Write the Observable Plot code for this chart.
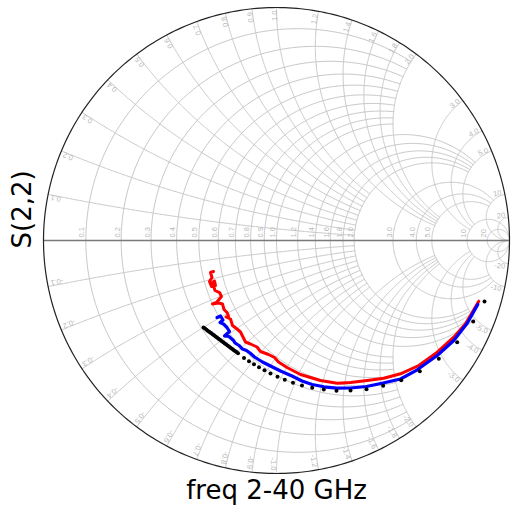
<!DOCTYPE html>
<html><head><meta charset="utf-8">
<script src="https://cdn.jsdelivr.net/npm/d3@7"></script>
<script src="https://cdn.jsdelivr.net/npm/@observablehq/plot@0.6"></script>
<style>body{margin:0;background:#fff}</style>
</head><body><div id="chart"></div>
<script>
// grid tick values (normalized resistance / reactance)
const gridValues = [0.1,0.2,0.3,0.4,0.5,0.6,0.7,0.8,0.9,1.0,1.2,1.4,1.6,1.8,2.0,3.0,4.0,5.0,10,20];
// truncation: [upper value of group, limit of the crossing family]
const rCircleLimits = [[1.0, 2.0],[2.0, 5.0],[5.0, 10],[20, Infinity]];
const xArcLimits = [[1.0, 2.0],[2.0, 5.0],[5.0, 10],[20, Infinity]];

// measured S(2,2), black markers (reflection coefficient re / im)
const blackRe = [-0.3133,-0.3069,-0.3004,-0.2940,-0.2876,-0.2811,-0.2747,-0.2682,-0.2618,-0.2554,-0.2489,-0.2425,
  -0.2361,-0.2296,-0.2232,-0.2167,-0.2103,-0.2039,-0.1974,-0.1910,-0.1845,-0.1781,-0.1717,-0.1652,
  -0.1395,-0.1180,-0.0966,-0.0751,-0.0515,-0.0258,0.0043,0.0356,0.0708,0.1094,0.1532,0.2030,0.2575,0.3176,0.3863,0.4579,0.5352,0.6150,0.6966,0.7755,0.8442,0.8927];
const blackIm = [-0.3734,-0.3781,-0.3828,-0.3880,-0.3927,-0.3974,-0.4021,-0.4069,-0.4120,-0.4167,-0.4215,-0.4262,
  -0.4309,-0.4361,-0.4408,-0.4455,-0.4502,-0.4549,-0.4601,-0.4648,-0.4695,-0.4742,-0.4790,-0.4841,
  -0.5043,-0.5180,-0.5313,-0.5438,-0.5567,-0.5708,-0.5850,-0.5974,-0.6103,-0.6223,-0.6322,-0.6395,-0.6451,-0.6438,-0.6382,-0.6236,-0.5996,-0.5609,-0.5077,-0.4365,-0.3476,-0.2618];
// blue trace
const blueRe = [-0.2554,-0.2403,-0.2296,-0.2425,-0.2275,-0.2124,-0.2017,-0.2232,-0.2039,-0.1845,-0.1781,-0.1609,-0.1459,-0.1288,-0.1137,-0.0944,
  -0.0601,-0.0258,0.0172,0.0687,0.1094,0.1532,0.2030,0.2575,0.3176,0.3863,0.4579,0.5322,0.6039,0.6897,0.7609,0.8185,0.8639];
const blueIm = [-0.3305,-0.3240,-0.3412,-0.3519,-0.3584,-0.3734,-0.3906,-0.4099,-0.4120,-0.4292,-0.4399,-0.4506,-0.4657,-0.4721,-0.4828,-0.5000,
  -0.5215,-0.5386,-0.5601,-0.5828,-0.6030,-0.6180,-0.6279,-0.6339,-0.6330,-0.6266,-0.6116,-0.5944,-0.5549,-0.4936,-0.4292,-0.3549,-0.2747];
// red trace
const redRe = [-0.2704,-0.2833,-0.2768,-0.2876,-0.2790,-0.2618,-0.2661,-0.2747,-0.2639,-0.2446,-0.2361,-0.2575,-0.2747,-0.2489,-0.2318,-0.2253,-0.2124,-0.2060,-0.2167,-0.1974,
  -0.1888,-0.1695,-0.1545,-0.1438,-0.1330,-0.1116,-0.0837,-0.0687,-0.0343,-0.0086,0.0086,0.0451,0.1030,0.1888,0.2605,0.3176,0.3893,0.4605,0.5322,0.6107,0.6897,0.7609,0.8112,0.8682];
const redIm = [-0.1330,-0.1373,-0.1588,-0.1760,-0.1974,-0.1931,-0.1738,-0.1803,-0.2146,-0.2232,-0.2403,-0.2661,-0.2725,-0.2682,-0.2725,-0.2961,-0.3090,-0.3240,-0.3283,-0.3369,
  -0.3648,-0.3798,-0.3927,-0.4142,-0.4356,-0.4442,-0.4571,-0.4764,-0.4893,-0.5021,-0.5215,-0.5451,-0.5751,-0.6009,-0.6124,-0.6094,-0.6009,-0.5910,-0.5721,-0.5365,-0.4794,-0.4150,-0.3575,-0.2605];

const yTitle = "S(2,2)";
const xTitle = "freq 2-40 GHz";

const zip = (re, im) => re.map((v, i) => ({re: v, im: im[i]}));
const black = zip(blackRe, blackIm), blue = zip(blueRe, blueIm), red = zip(redRe, redIm);

function gam(r, x) {
  const d = (r + 1) * (r + 1) + x * x;
  return [(r * r + x * x - 1) / d, 2 * x / d];
}
function limitOf(v, table) { for (const [u, l] of table) if (v <= u + 1e-9) return l; return Infinity; }
const N = 240;
const grid = [];
let gid = 0;
// constant-resistance circles
for (const r of gridValues) {
  const c = r / (1 + r), rho = 1 / (1 + r);
  const xm = limitOf(r, rCircleLimits);
  let a0 = 0;
  if (isFinite(xm)) { const g = gam(r, xm); a0 = Math.atan2(g[1], g[0] - c); }
  const id = gid++;
  for (let i = 0; i <= N; i++) {
    const a = a0 + (2 * Math.PI - 2 * a0) * i / N;
    grid.push({id, re: c + rho * Math.cos(a), im: rho * Math.sin(a)});
  }
}
// constant-reactance arcs
const norm = a => (a < 0 ? a + 2 * Math.PI : a);
for (const x of gridValues) {
  const rm = limitOf(x, xArcLimits);
  const g0 = gam(0, x);
  const p0 = norm(Math.atan2(g0[1] - 1 / x, g0[0] - 1));
  let p1 = 1.5 * Math.PI;
  if (isFinite(rm)) { const g1 = gam(rm, x); p1 = norm(Math.atan2(g1[1] - 1 / x, g1[0] - 1)); }
  for (const s of [1, -1]) {
    const id = gid++;
    for (let i = 0; i <= N; i++) {
      const p = p0 + (p1 - p0) * i / N;
      grid.push({id, re: 1 + Math.cos(p) / x, im: s * (1 / x + Math.sin(p) / x)});
    }
  }
}
const outer = d3.range(0, 361).map(a => ({re: Math.cos(a * Math.PI / 180), im: Math.sin(a * Math.PI / 180)}));

const fmt = v => v >= 10 ? String(v) : v.toFixed(1);
// outer reactance labels
const K = 0.987;
const xLabels = [];
for (const x of gridValues) for (const s of [1, -1]) {
  const g = gam(0, s * x);
  const th = Math.atan2(g[1], g[0]) * 180 / Math.PI;
  xLabels.push({re: g[0] * K, im: g[1] * K, rot: -th, text: (s < 0 ? "-" : "") + fmt(x), up: s > 0});
}

const CX = 276, CY = 240, R = 233, W = 511, H = 508;
const labelColor = "#b8b8b8";
const chart = Plot.plot({
  width: W, height: H,
  marginLeft: CX - R, marginRight: W - CX - R, marginTop: CY - R, marginBottom: H - CY - R,
  x: {domain: [-1, 1], axis: null},
  y: {domain: [-1, 1], axis: null},
  style: {fontFamily: "DejaVu Sans", background: "#fff"},
  marks: [
    Plot.line(grid, {x: "re", y: "im", z: "id", stroke: "#c8c8c8", strokeWidth: 1}),
    Plot.ruleY([0], {x1: -1, x2: 1, stroke: "#7a7a7a", strokeWidth: 1.5}),
    Plot.line(outer, {x: "re", y: "im", stroke: "#222", strokeWidth: 1.2}),
    Plot.text(gridValues, {x: r => (r - 1) / (r + 1), y: 0, text: fmt, rotate: -90, textAnchor: "start", lineAnchor: "bottom", dx: -1.5, dy: -3, fontSize: 7.5, fill: labelColor, fontFamily: "Liberation Sans"}),
    Plot.text(xLabels.filter(d => d.up), {x: "re", y: "im", text: "text", rotate: "rot", textAnchor: "end", lineAnchor: "bottom", fontSize: 7.5, fill: labelColor, fontFamily: "Liberation Sans"}),
    Plot.text(xLabels.filter(d => !d.up), {x: "re", y: "im", text: "text", rotate: "rot", textAnchor: "end", lineAnchor: "top", fontSize: 7.5, fill: labelColor, fontFamily: "Liberation Sans"}),
    Plot.line(red, {x: "re", y: "im", stroke: "#ff0000", strokeWidth: 3, strokeLinejoin: "round"}),
    Plot.line(blue, {x: "re", y: "im", stroke: "#0000ff", strokeWidth: 3.2, strokeLinejoin: "round"}),
    Plot.dot(black, {x: "re", y: "im", r: 2, fill: "#000", stroke: "none"}),
    Plot.text([yTitle], {frameAnchor: "left", rotate: -90, dx: -21, dy: 8, fontSize: 26, fill: "#000", fontFamily: "DejaVu Sans"}),
    Plot.text([xTitle], {frameAnchor: "bottom", dy: 25, fontSize: 26, fill: "#000", fontFamily: "DejaVu Sans"})
  ]
});
document.getElementById("chart").appendChild(chart);
</script>
</body></html>
